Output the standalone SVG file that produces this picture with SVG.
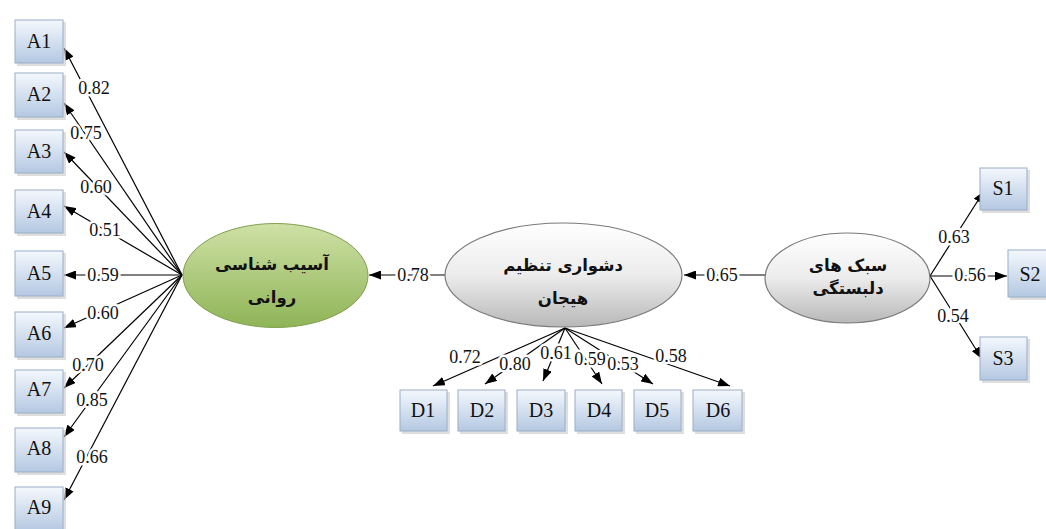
<svg xmlns="http://www.w3.org/2000/svg" width="1046" height="529" viewBox="0 0 1046 529">
<defs>
<linearGradient id="gBox" x1="0" y1="0" x2="0" y2="1">
<stop offset="0" stop-color="#f4f8fd"/>
<stop offset="1" stop-color="#b4c8e2"/>
</linearGradient>
<linearGradient id="gGreen" x1="0" y1="0" x2="0" y2="1">
<stop offset="0" stop-color="#cfe1a6"/>
<stop offset="1" stop-color="#8fb457"/>
</linearGradient>
<linearGradient id="gGray" x1="0" y1="0" x2="0" y2="1">
<stop offset="0" stop-color="#ffffff"/>
<stop offset="0.5" stop-color="#ececec"/>
<stop offset="1" stop-color="#b8b8b8"/>
</linearGradient>
<marker id="arr" viewBox="0 0 12 9" refX="12" refY="4.5" markerWidth="12" markerHeight="9" markerUnits="userSpaceOnUse" orient="auto">
<path d="M0,0 L12,4.5 L0,9 Z" fill="#000"/>
</marker>
</defs>
<style>
.box{fill:url(#gBox);stroke:#9aaec8;stroke-width:1}
.sh{fill:#c8c8c8;opacity:0.6}
.bt{font-family:"Liberation Serif","DejaVu Serif","Times New Roman",serif;font-size:20px;fill:#111;text-anchor:middle}
.ln{stroke:#000;stroke-width:1.2;fill:none;marker-end:url(#arr)}
.lb{font-family:"Liberation Serif","DejaVu Serif","Times New Roman",serif;font-size:18px;fill:#111;text-anchor:middle;stroke:#fff;stroke-width:5px;paint-order:stroke;stroke-linejoin:round}
.fa{font-family:"DejaVu Sans",sans-serif;font-size:16.5px;font-weight:bold;fill:#111;text-anchor:middle}
</style>
<rect width="1046" height="529" fill="#fff"/>
<g id="connectors">
<line class="ln" x1="182" y1="275" x2="64" y2="48"/>
<line class="ln" x1="182" y1="275" x2="64" y2="103"/>
<line class="ln" x1="182" y1="275" x2="64" y2="152"/>
<line class="ln" x1="182" y1="275" x2="64" y2="206"/>
<line class="ln" x1="182" y1="275" x2="64" y2="275"/>
<line class="ln" x1="182" y1="275" x2="64" y2="328"/>
<line class="ln" x1="182" y1="275" x2="64" y2="388"/>
<line class="ln" x1="182" y1="275" x2="64" y2="437"/>
<line class="ln" x1="182" y1="275" x2="64" y2="500"/>
<line class="ln" x1="445" y1="275" x2="369" y2="275"/>
<line class="ln" x1="765" y1="275" x2="684" y2="275"/>
<line class="ln" x1="565" y1="328" x2="433" y2="386"/>
<line class="ln" x1="565" y1="328" x2="485" y2="384"/>
<line class="ln" x1="565" y1="328" x2="543" y2="381"/>
<line class="ln" x1="565" y1="328" x2="602" y2="384"/>
<line class="ln" x1="565" y1="328" x2="653" y2="384"/>
<line class="ln" x1="565" y1="328" x2="730" y2="386"/>
<line class="ln" x1="930" y1="276" x2="984" y2="191"/>
<line class="ln" x1="930" y1="276" x2="1007" y2="276"/>
<line class="ln" x1="930" y1="276" x2="982" y2="359"/>
<text class="lb" x="94" y="94">0.82</text>
<text class="lb" x="86" y="139">0.75</text>
<text class="lb" x="96" y="193">0.60</text>
<text class="lb" x="105" y="236">0.51</text>
<text class="lb" x="103" y="281">0.59</text>
<text class="lb" x="103" y="319">0.60</text>
<text class="lb" x="88" y="371">0.70</text>
<text class="lb" x="92" y="406">0.85</text>
<text class="lb" x="92" y="463">0.66</text>
<text class="lb" x="413" y="281">0.78</text>
<text class="lb" x="722" y="281">0.65</text>
<text class="lb" x="465" y="363">0.72</text>
<text class="lb" x="515" y="370">0.80</text>
<text class="lb" x="556" y="359">0.61</text>
<text class="lb" x="590" y="365">0.59</text>
<text class="lb" x="623" y="370">0.53</text>
<text class="lb" x="671" y="362">0.58</text>
<text class="lb" x="954" y="243">0.63</text>
<text class="lb" x="970" y="281">0.56</text>
<text class="lb" x="953" y="322">0.54</text>
</g>
<g id="A1"><rect class="sh" x="17" y="22" width="49" height="44"/><rect class="box" x="15" y="20" width="48" height="43"/><text class="bt" x="39" y="48">A1</text></g>
<g id="A2"><rect class="sh" x="17" y="75" width="49" height="45"/><rect class="box" x="15" y="73" width="48" height="44"/><text class="bt" x="39" y="101">A2</text></g>
<g id="A3"><rect class="sh" x="17" y="132" width="49" height="44"/><rect class="box" x="15" y="130" width="48" height="43"/><text class="bt" x="39" y="158">A3</text></g>
<g id="A4"><rect class="sh" x="17" y="192" width="49" height="44"/><rect class="box" x="15" y="190" width="48" height="43"/><text class="bt" x="39" y="218">A4</text></g>
<g id="A5"><rect class="sh" x="17" y="253" width="49" height="46"/><rect class="box" x="15" y="251" width="48" height="45"/><text class="bt" x="39" y="280">A5</text></g>
<g id="A6"><rect class="sh" x="17" y="314" width="49" height="46"/><rect class="box" x="15" y="312" width="48" height="45"/><text class="bt" x="39" y="340">A6</text></g>
<g id="A7"><rect class="sh" x="17" y="372" width="49" height="44"/><rect class="box" x="15" y="370" width="48" height="43"/><text class="bt" x="39" y="396">A7</text></g>
<g id="A8"><rect class="sh" x="17" y="430" width="49" height="45"/><rect class="box" x="15" y="428" width="48" height="44"/><text class="bt" x="39" y="455">A8</text></g>
<g id="A9"><rect class="sh" x="17" y="489" width="49" height="45"/><rect class="box" x="15" y="487" width="48" height="44"/><text class="bt" x="39" y="514">A9</text></g>
<g id="psych"><ellipse cx="275.5" cy="275.5" rx="92.5" ry="52" fill="url(#gGreen)" stroke="#7f9f4f" stroke-width="1"/><text class="fa" x="272" y="270">آسیب شناسی</text><text class="fa" x="272" y="303">روانی</text></g>
<g id="emo"><ellipse cx="563.5" cy="275" rx="118.5" ry="52" fill="url(#gGray)" stroke="#7a7a7a" stroke-width="1.2"/><text class="fa" x="563" y="271">دشواری تنظیم</text><text class="fa" x="563" y="304">هیجان</text></g>
<g id="attach"><ellipse cx="847.5" cy="278" rx="82.5" ry="45" fill="url(#gGray)" stroke="#7a7a7a" stroke-width="1.2"/><text class="fa" x="848" y="271">سبک های</text><text class="fa" x="848" y="294">دلبستگی</text></g>
<g id="D1"><rect class="sh" x="402" y="392" width="48" height="42"/><rect class="box" x="400" y="390" width="47" height="41"/><text class="bt" x="423" y="417">D1</text></g>
<g id="D2"><rect class="sh" x="460" y="392" width="48" height="42"/><rect class="box" x="458" y="390" width="47" height="41"/><text class="bt" x="482" y="417">D2</text></g>
<g id="D3"><rect class="sh" x="519" y="392" width="49" height="42"/><rect class="box" x="517" y="390" width="48" height="41"/><text class="bt" x="541" y="417">D3</text></g>
<g id="D4"><rect class="sh" x="577" y="392" width="48" height="42"/><rect class="box" x="575" y="390" width="47" height="41"/><text class="bt" x="599" y="417">D4</text></g>
<g id="D5"><rect class="sh" x="636" y="392" width="48" height="42"/><rect class="box" x="634" y="390" width="47" height="41"/><text class="bt" x="657" y="417">D5</text></g>
<g id="D6"><rect class="sh" x="695" y="392" width="50" height="42"/><rect class="box" x="693" y="390" width="49" height="41"/><text class="bt" x="718" y="417">D6</text></g>
<g id="S1"><rect class="sh" x="982" y="170" width="48" height="43"/><rect class="box" x="980" y="168" width="47" height="42"/><text class="bt" x="1003" y="195">S1</text></g>
<g id="S2"><rect class="sh" x="1010" y="252" width="48" height="48"/><rect class="box" x="1008" y="250" width="48" height="47"/><text class="bt" x="1030" y="281">S2</text></g>
<g id="S3"><rect class="sh" x="982" y="339" width="48" height="44"/><rect class="box" x="980" y="337" width="47" height="43"/><text class="bt" x="1003" y="365">S3</text></g>
</svg>
